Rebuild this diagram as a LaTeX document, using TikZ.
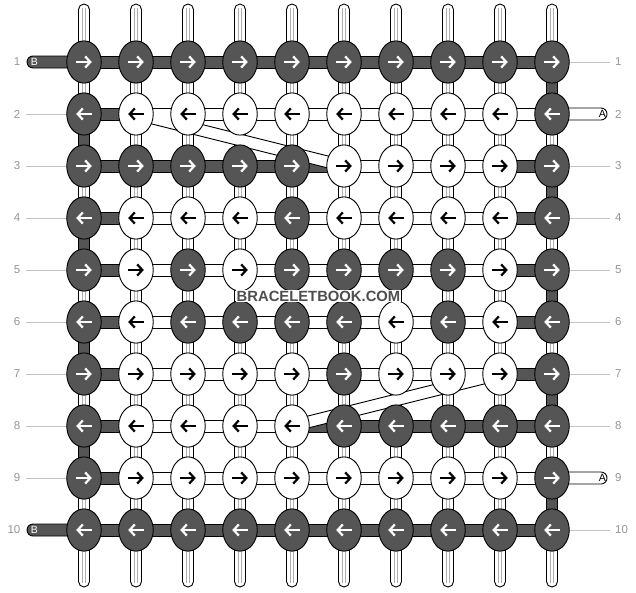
\documentclass[tikz,border=0pt]{standalone}
\usepackage{fontspec}
\setmainfont{Liberation Sans}
\usetikzlibrary{shapes.geometric}
\definecolor{dk}{RGB}{85,85,85}
\definecolor{lbl}{RGB}{150,150,150}
\definecolor{lgl}{RGB}{195,195,195}
\definecolor{warpin}{RGB}{175,175,175}
\definecolor{wm}{RGB}{78,78,78}
\tikzset{
  outl/.style={draw=black, line width=0.9pt},
  knotD/.style={ellipse, draw=black, line width=0.9pt, fill=dk,
    minimum width=34.5pt, minimum height=42.2pt, inner sep=0pt, outer sep=0pt},
  knotW/.style={knotD, fill=white},
  rowlbl/.style={text=lbl, font=\fontsize{11.5}{12}\selectfont, inner sep=0pt},
  guide/.style={draw=lgl, line width=0.9pt},
  barlbl/.style={font=\fontsize{10.5}{10.5}\selectfont, inner sep=0pt},
  arrline/.style={line width=2.2pt},
  wmfont/.style={font=\bfseries\fontsize{14.8}{15}\selectfont, inner sep=0.8pt}
}
\begin{document}
\begin{tikzpicture}[x=1pt,y=-1pt]
\useasboundingbox[fill=white] (0,0) rectangle (636,592);

% row labels and guide lines
\foreach \r in {1,...,10}{
  \node[rowlbl, anchor=east] (ll\r) at (20.5,10+52*\r) {\r};
  \node[rowlbl, anchor=west] (rl\r) at (615,10+52*\r) {\r};
}
\foreach \r in {2,...,9}{
  \draw[guide] (26,10+52*\r) -- (70,10+52*\r);
}
\foreach \r in {1,3,4,5,6,7,8,10}{
  \draw[guide] (566,10+52*\r) -- (610,10+52*\r);
}

% warp tubes
\foreach \c in {1,...,10}{
  \pgfmathsetmacro\X{32+52*\c}
  \draw[outl, fill=white, rounded corners=5.5pt] (\X-5.5,4) rectangle (\X+5.5,587);
  \draw[warpin, line width=0.6pt] (\X-1.5,8) -- (\X-1.5,583) (\X+1.5,8) -- (\X+1.5,583);
}

% dark turning segments at the edges
\foreach \r in {2,4,6,8}{
  \draw[outl, fill=dk] (78.5,10+52*\r) rectangle (89.5,62+52*\r);
}
\foreach \r in {1,3,5,7,9}{
  \draw[outl, fill=dk] (546.5,10+52*\r) rectangle (557.5,62+52*\r);
}

% end bars B and A
\draw[outl, fill=dk, rounded corners=6pt] (27,56) rectangle (84,68);
\draw[outl, fill=dk, rounded corners=6pt] (27,524) rectangle (84,536);
\node[barlbl, text=white] (b1) at (34.5,62.2) {B};
\node[barlbl, text=white] (b10) at (34.5,530.2) {B};
\draw[outl, fill=white, rounded corners=6pt] (552,108) rectangle (607,120);
\draw[outl, fill=white, rounded corners=6pt] (552,472) rectangle (607,484);
\node[barlbl, text=black] (a2) at (602.3,114.2) {A};
\node[barlbl, text=black] (a9) at (602.3,478.2) {A};

% horizontal connectors (1 = dark, 0 = white)
\foreach \r/\cs in {
  1/{1,1,1,1,1,1,1,1,1},
  2/{1,0,0,0,0,0,0,0,0},
  3/{1,1,1,1,1,0,0,0,1},
  4/{1,0,0,0,0,0,0,0,1},
  5/{1,0,0,0,0,0,0,0,1},
  6/{1,0,0,0,0,0,0,0,1},
  7/{1,0,0,0,0,0,0,0,1},
  8/{1,0,0,0,1,1,1,1,1},
  9/{1,0,0,0,0,0,0,0,0},
  10/{1,1,1,1,1,1,1,1,1}}{
  \foreach \k [count=\c] in \cs {
    \ifnum\k=1 \def\fc{dk}\else\def\fc{white}\fi
    \draw[outl, fill=\fc] (32+52*\c,4+52*\r) rectangle (84+52*\c,16+52*\r);
  }
}

% floating threads
\fill[white] (136,108) -- (344,160) -- (344,172) -- (136,120) -- cycle;
\draw[outl] (136,120) -- (344,172);
\draw[outl] (188,121) -- (344,160);
\fill[white] (500,368) -- (292,420) -- (292,432) -- (500,380) -- cycle;
\draw[outl] (500,380) -- (292,432);
\draw[outl] (448,381) -- (292,420);

% knots
\foreach \r/\ks in {
  1/{1,1,1,1,1,1,1,1,1,1},
  2/{1,0,0,0,0,0,0,0,0,1},
  3/{1,1,1,1,1,0,0,0,0,1},
  4/{1,0,0,0,1,0,0,0,0,1},
  5/{1,0,1,0,1,1,1,1,0,1},
  6/{1,0,1,1,1,1,0,1,0,1},
  7/{1,0,0,0,0,1,0,0,0,1},
  8/{1,0,0,0,0,1,1,1,1,1},
  9/{1,0,0,0,0,0,0,0,0,1},
  10/{1,1,1,1,1,1,1,1,1,1}}{
  \pgfmathsetmacro\Y{10+52*\r}
  \pgfmathtruncatemacro\dd{mod(\r,2)==1 ? 1 : -1}
  \foreach \k [count=\c] in \ks {
    \pgfmathsetmacro\X{32+52*\c}
    \ifnum\k=1 \def\kst{knotD}\def\ac{white}\else\def\kst{knotW}\def\ac{black}\fi
    \node[\kst] (k\r-\c) at (\X,\Y) {};
    \begin{scope}[shift={(\X,\Y)}, xscale=\dd]
      \draw[arrline, draw=\ac] (-7.8,0) -- (6,0);
      \draw[arrline, draw=\ac, line join=miter] (1.2,-5.6) -- (6.3,0) -- (1.2,5.6);
    \end{scope}
  }
}

% watermark
\node[wmfont, text=wm, fill=white] (wmark) at (318.5,296) {BRACELETBOOK.COM};
\end{tikzpicture}
\end{document}
